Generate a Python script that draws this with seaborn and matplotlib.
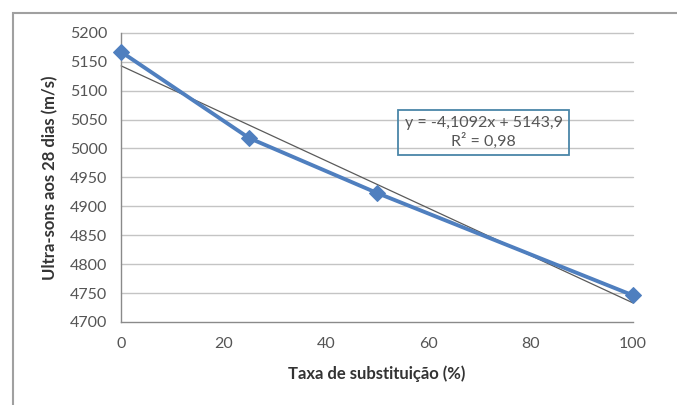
import matplotlib

matplotlib.use("Agg")

import matplotlib.pyplot as plt
from matplotlib.patches import Rectangle
import pandas as pd
import seaborn as sns

# Taxa de substituição (%) e velocidade de ultra-sons aos 28 dias
taxa = [0, 25, 50, 100]
ultra_sons = [5167, 5018, 4923, 4746]
equacao = "y = -4,1092x + 5143,9"
r2_texto = "R² = 0,98"

y_ticks = list(range(4700, 5201, 50))
x_ticks = [0, 20, 40, 60, 80, 100]

df = pd.DataFrame({"taxa": taxa, "ultra_sons": ultra_sons})

sns.set_theme(style="white")
plt.rcParams["font.family"] = ["Lato", "DejaVu Sans"]

fig = plt.figure(figsize=(6.77, 4.05), dpi=100)
ax = fig.add_axes([0.179, 0.205, 0.756, 0.714])

# moldura exterior do gráfico
fig.patches.append(Rectangle((13 / 677, -0.1), 1.2, 1 - 13 / 405 + 0.1, transform=fig.transFigure,
                             fill=False, edgecolor="#a0a0a0", linewidth=1.5))

for yt in y_ticks[1:]:
    ax.axhline(yt, color="#c4c4c4", linewidth=1.0, zorder=0)

sns.regplot(data=df, x="taxa", y="ultra_sons", ci=None, scatter=False, truncate=True,
            line_kws={"color": "#5a5a5a", "linewidth": 0.9, "zorder": 2}, ax=ax)
sns.lineplot(data=df, x="taxa", y="ultra_sons", color="#4f7fbf", linewidth=2.8,
             marker="D", markersize=8, markeredgecolor="#4f7fbf", zorder=3, ax=ax)

ax.set_xlim(0, 100)
ax.set_ylim(4700, 5200)
ax.set_xticks(x_ticks)
ax.set_yticks(y_ticks)
ax.tick_params(axis="both", colors="#8a8a8a", labelcolor="#555555", labelsize=11.5,
               length=4, width=1, direction="inout")
ax.tick_params(axis="x", pad=9)
ax.tick_params(axis="y", pad=8)

for side in ["top", "right"]:
    ax.spines[side].set_visible(False)
for side in ["left", "bottom"]:
    ax.spines[side].set_color("#8a8a8a")
    ax.spines[side].set_linewidth(1.0)
ax.margins(0)
for artist in ax.get_children():
    if hasattr(artist, "set_clip_on"):
        artist.set_clip_on(False)

ax.set_xlabel("Taxa de substituição (%)", fontsize=12, fontweight="bold", color="#333333", labelpad=10)
ax.set_ylabel("Ultra-sons aos 28 dias (m/s)", fontsize=12, fontweight="bold", color="#333333", labelpad=8)

ax.text(0.708, 0.655, equacao + "\n" + r2_texto, transform=ax.transAxes, ha="center", va="center",
        fontsize=11.5, color="#555555", linespacing=1.2,
        bbox=dict(boxstyle="square,pad=0.4", facecolor="none", edgecolor="#4a86a8", linewidth=1.3))

fig.savefig("out.png", dpi=100)
plt.close(fig)
